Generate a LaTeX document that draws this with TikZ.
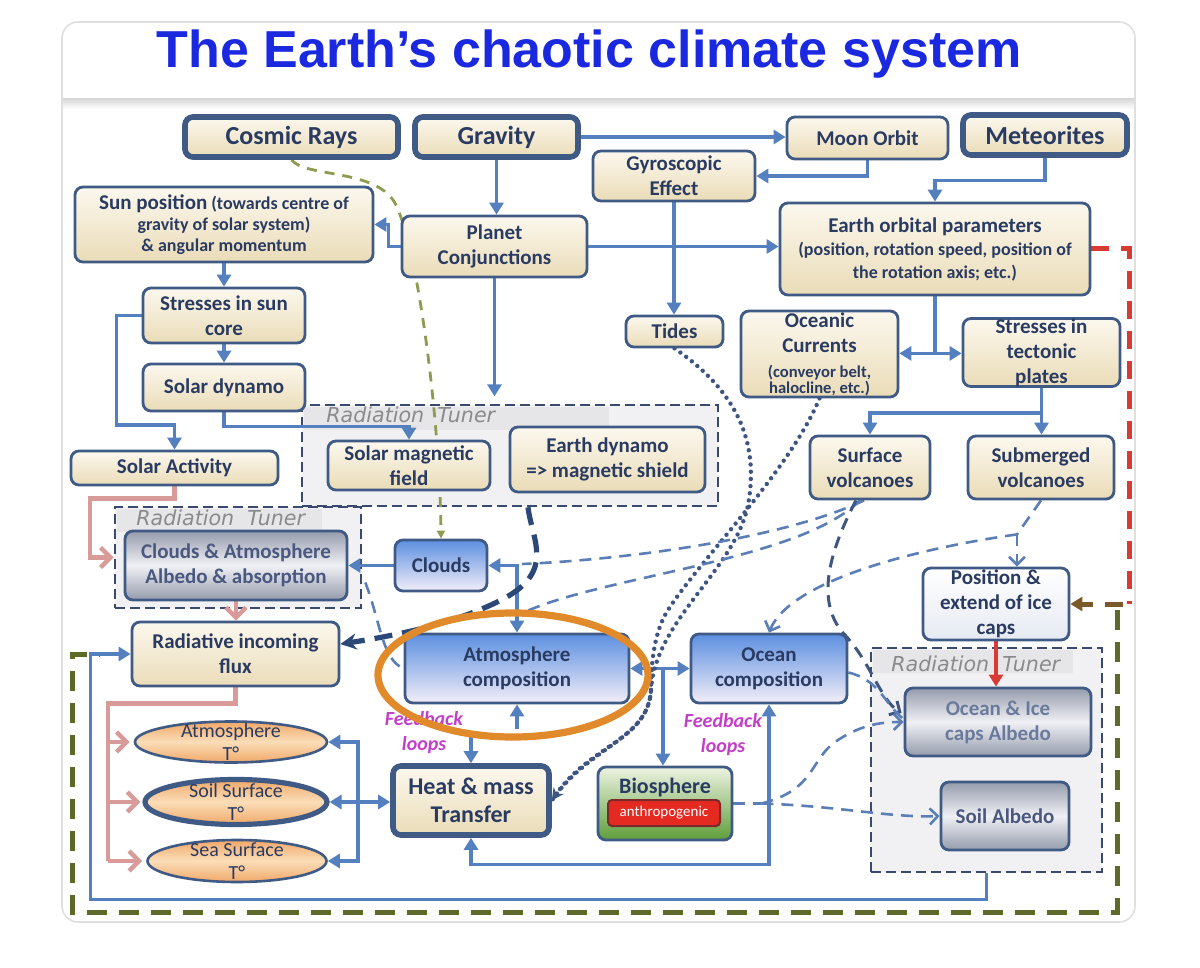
\documentclass[tikz,border=0pt]{standalone}
\usepackage{fontspec}
\setmainfont{Carlito}
\newfontfamily\titlefont{Liberation Sans}
\newfontfamily\dejavu{DejaVu Sans}
\usetikzlibrary{arrows.meta,calc,shapes.geometric}
\pgfdeclarelayer{tun}
\pgfdeclarelayer{bg}
\pgfsetlayers{tun,bg,main}
\definecolor{bord}{HTML}{3F5A85}
\definecolor{txt}{HTML}{2A3B62}
\definecolor{txtG}{HTML}{4A5880}
\definecolor{txtL}{HTML}{6A7A9C}
\definecolor{arrC}{HTML}{5580C0}
\definecolor{beigeT}{HTML}{FCF8EE}
\definecolor{beigeB}{HTML}{EADCB8}
\definecolor{blueT}{HTML}{5C8FE0}
\definecolor{blueB}{HTML}{F2EEF8}
\definecolor{metalE}{HTML}{959BAC}
\definecolor{metalM}{HTML}{F0F1F5}
\definecolor{tunerB}{HTML}{3A4A6E}
\definecolor{tunerF}{HTML}{F1F1F3}
\definecolor{tunerBand}{HTML}{E6E6E9}
\definecolor{tunerT}{HTML}{8A8A8E}
\definecolor{pinkC}{HTML}{D99A9A}
\definecolor{oliveC}{HTML}{5E6A2A}
\definecolor{oliveL}{HTML}{8E9C50}
\definecolor{redC}{HTML}{D83A34}
\definecolor{brownC}{HTML}{7A5A2A}
\definecolor{navyD}{HTML}{2B4878}
\definecolor{dashC}{HTML}{5A7EB5}
\definecolor{dashD}{HTML}{3E5682}
\definecolor{dotC}{HTML}{3D5580}
\definecolor{orangeC}{HTML}{E08A2C}
\definecolor{magC}{HTML}{C43FC8}
\definecolor{titleC}{HTML}{1A28E0}
\definecolor{ellT}{HTML}{FBDDB8}
\definecolor{ellB}{HTML}{F0A868}
\definecolor{greenT}{HTML}{EEF3E2}
\definecolor{greenB}{HTML}{5E9E3A}
\definecolor{anthC}{HTML}{E52A22}
\definecolor{anthB}{HTML}{7A2A2A}
\definecolor{posB}{HTML}{E6EAF2}
\newcommand{\bx}[7]{%
\pgfmathsetmacro{\bxcx}{(#2+#4)/2}%
\pgfmathsetmacro{\bxcy}{(#3+#5)/2}%
\pgfmathsetmacro{\bxw}{(#4-#2)/2}%
\pgfmathsetmacro{\bxh}{(#5-#3)/2}%
\node[#6, minimum width=\bxw pt, minimum height=\bxh pt] (#1) at (\bxcx,\bxcy) {#7};}
\tikzset{
 bbase/.style={draw=bord, line width=1.4pt, rounded corners=4pt, align=center, text=txt, font=\bfseries\fontsize{10.5}{12.5}\selectfont, inner sep=0pt},
 beige/.style={bbase, top color=beigeT, bottom color=beigeB},
 thk/.style={line width=2.8pt},
 bluebox/.style={bbase, top color=blueT, bottom color=blueB},
 metal/.style={bbase, top color=metalE, bottom color=metalE, middle color=metalM},
 tuner/.style={draw=tunerB, dash pattern=on 5pt off 2.5pt, line width=1.3pt, fill=tunerF, inner sep=0pt},
 tunlab/.style={font=\dejavu\itshape\fontsize{10.3}{12}\selectfont, text=tunerT, inner sep=0pt},
 ln/.style={draw=arrC, line width=1.6pt},
 arr/.style={ln, -{Triangle[length=6pt,width=7pt]}},
 arrr/.style={ln, {Triangle[length=6pt,width=7pt]}-{Triangle[length=6pt,width=7pt]}},
 pk/.style={draw=pinkC, line width=2.2pt},
 pkarr/.style={pk, -{Straight Barb[length=5pt,width=10pt]}},
 dsh/.style={draw=dashC, line width=1.3pt, dash pattern=on 6pt off 4pt},
 dsharr/.style={dsh, -{Straight Barb[length=4pt,width=8pt]}},
 dshD/.style={draw=dashD, line width=1.5pt, dash pattern=on 6pt off 4pt, -{Straight Barb[length=4pt,width=8pt]}},
 dotl/.style={draw=dotC, line width=2.2pt, line cap=round, dash pattern=on 0pt off 3.6pt},
 olv/.style={draw=oliveL, line width=1.4pt, dash pattern=on 5pt off 4pt, -{Triangle[length=4pt,width=4pt]}},
 olvB/.style={draw=oliveC, line width=2.5pt, dash pattern=on 10pt off 6pt},
 redd/.style={draw=redC, line width=2.5pt, dash pattern=on 9pt off 6pt},
 brdarr/.style={draw=brownC, line width=2.5pt, dash pattern=on 9pt off 6pt, -{Triangle[length=6pt,width=7pt]}},
 nvd/.style={draw=navyD, line width=2.6pt, dash pattern=on 9pt off 5pt, -{Stealth[length=8pt,width=8pt]}},
 ell/.style={ellipse, draw=bord, line width=1.3pt, top color=ellB, bottom color=ellB, middle color=ellT, inner sep=0pt},
 elt/.style={align=center, text=txt, font=\fontsize{10}{11.5}\selectfont, inner sep=0pt},
 fb/.style={align=center, text=magC, font=\bfseries\itshape\fontsize{10}{12.5}\selectfont, inner sep=0pt}
}
\begin{document}
\begin{tikzpicture}[x=0.5pt,y=-0.5pt]
\useasboundingbox (0,0) rectangle (1200,968);
\begin{pgfonlayer}{tun}
\fill[white] (0,0) rectangle (1200,968);
\node[draw=gray!25, line width=0.8pt, rounded corners=8pt, fill=white, minimum width=536.5pt, minimum height=450pt, inner sep=0pt] (card) at (598.5,472) {};
\shade[top color=gray!30, bottom color=white] (63,99) rectangle (1134,109);
\bx{tuner1}{302}{405}{718}{506}{tuner}{}
\bx{tuner2}{115}{507}{361}{608}{tuner}{}
\bx{tuner3}{871}{648}{1102}{872}{tuner}{}
\fill[tunerBand] ($(tuner1.north west)+(3,3)$) rectangle ($(tuner1.north east)+(-110,26)$);
\fill[tunerBand] ($(tuner2.north west)+(3,3)$) rectangle ($(tuner2.north east)+(-40,26)$);
\fill[tunerBand] ($(tuner3.north west)+(3,3)$) rectangle ($(tuner3.north east)+(-30,26)$);
\node[tunlab, anchor=west] (tl1) at (326,415) {Radiation\ \ Tuner};
\node[tunlab, anchor=west] (tl2) at (136,518) {Radiation\ \ Tuner};
\node[tunlab, anchor=west] (tl3) at (891,664) {Radiation\ \ Tuner};
\end{pgfonlayer}

\node[font=\titlefont\bfseries\fontsize{26}{30}\selectfont, text=titleC] (title) at (589,54) {The Earth’s chaotic climate system};

% nodes
\bx{cosmic}{185}{117}{398}{157}{beige,thk,font=\bfseries\fontsize{13}{15}\selectfont}{Cosmic Rays}
\bx{gravity}{415}{117}{578}{157}{beige,thk,font=\bfseries\fontsize{13}{15}\selectfont}{Gravity}
\bx{moon}{787}{117}{948}{159}{beige}{Moon Orbit}
\bx{meteor}{963}{115}{1127}{155}{beige,thk,font=\bfseries\fontsize{13}{15}\selectfont}{Meteorites}
\bx{gyro}{593}{151}{755}{201}{beige}{Gyroscopic\\Effect}
\bx{sunpos}{75}{187}{373}{262}{beige,font=\bfseries\fontsize{9}{10.5}\selectfont}{{\fontsize{10.5}{10.5}\selectfont Sun position} (towards centre of\\gravity of solar system)\\\& angular momentum}
\bx{planet}{402}{216}{587}{277}{beige}{Planet\\Conjunctions}
\bx{earth}{780}{203}{1090}{295}{beige,font=\bfseries\fontsize{9}{11.5}\selectfont}{{\fontsize{10.5}{11.5}\selectfont Earth orbital parameters}\\(position, rotation speed, position of\\the rotation axis; etc.)}
\bx{stress}{143}{288}{305}{343}{beige}{Stresses in sun\\core}
\bx{tides}{626}{316}{723}{347}{beige}{Tides}
\bx{ocur}{741}{311}{898}{397}{beige}{Oceanic\\Currents\\{\fontsize{8.3}{10}\selectfont (conveyor belt,}\\[-4.5pt]{\fontsize{8.3}{10}\selectfont halocline, etc.)}}
\bx{tect}{963}{320}{1120}{385}{beige}{Stresses in\\tectonic\\plates}
\bx{sdyn}{143}{364}{305}{411}{beige}{Solar dynamo}
\bx{smag}{328}{441}{490}{490}{beige}{Solar magnetic\\field}
\bx{edyn}{510}{427}{705}{492}{beige}{Earth dynamo\\=> magnetic shield}
\bx{sact}{71}{451}{278}{485}{beige}{Solar Activity}
\bx{svol}{810}{436}{930}{499}{beige}{Surface\\volcanoes}
\bx{mvol}{968}{436}{1114}{499}{beige}{Submerged\\volcanoes}
\bx{catm}{125}{531}{347}{600}{metal,text=txtG}{Clouds \& Atmosphere\\Albedo \& absorption}
\bx{clouds}{395}{540}{487}{591}{bluebox}{Clouds}
\bx{posi}{923}{568}{1069}{640}{bbase,top color=white,bottom color=posB}{Position \&\\extend of ice\\caps}
\bx{rflux}{132}{622}{339}{686}{beige}{Radiative incoming\\flux}
\bx{atmc}{405}{634}{629}{703}{bluebox}{Atmosphere\\composition}
\bx{occ}{691}{634}{847}{703}{bluebox}{Ocean\\composition}
\bx{oice}{905}{688}{1091}{756}{metal,text=txtL}{Ocean \& Ice\\caps Albedo}
\bx{salb}{941}{782}{1069}{850}{metal,text=txtG}{Soil Albedo}
\bx{heat}{393}{766}{549}{835}{beige,thk,font=\bfseries\fontsize{12}{14}\selectfont}{Heat \& mass\\Transfer}
\bx{bio}{598}{767}{732}{840}{bbase,top color=greenT,bottom color=greenB}{}
\node[font=\bfseries\fontsize{11}{12}\selectfont, text=txt, inner sep=0pt] (biot) at (665,788) {Biosphere};
\bx{anth}{608}{800}{720}{826}{draw=anthB, line width=1pt, rounded corners=2pt, fill=anthC, text=white, font=\fontsize{7.5}{9}\selectfont, inner sep=0pt}{anthropogenic}

\node[ell, minimum width=96pt, minimum height=20.5pt] (atmT) at (231,742) {};
\node[ell, line width=2.6pt, minimum width=91pt, minimum height=22.5pt] (soilT) at (236,802) {};
\node[ell, minimum width=89.5pt, minimum height=21pt] (seaT) at (237,861) {};
\node[elt] (atmTt) at (atmT) {Atmosphere\\T°};
\node[elt] (soilTt) at (soilT) {Soil Surface\\T°};
\node[elt] (seaTt) at (seaT) {Sea Surface\\T°};

\node[fb] (fb1) at (424,733) {Feedback\\loops};
\node[fb] (fb2) at (723,735) {Feedback\\loops};

\node[draw=orangeC, line width=3.6pt, ellipse, minimum width=135pt, minimum height=62pt, inner sep=0pt] (hl) at (513,675) {};

% connectors
\begin{pgfonlayer}{bg}
\draw[arr] (gravity.east) -- (gravity.east -| moon.west);
\draw[arr] (moon.south) |- (gyro.east);
\draw[arr] (meteor.south) -- ++(0,23) -| (earth.north);
\draw[arr] (gravity.south) -- (gravity.south |- planet.north);
\draw[arr] (planet.west) -- ++(-12,0) |- (sunpos.east);
\draw[arr] (planet.east) -- (planet.east -| earth.west);
\draw[arr] (gyro.south) -- (gyro.south |- tides.north);
\draw[arr] (planet.south) -- ++(0,118);
\draw[arr] (sunpos.south) -- (sunpos.south |- stress.north);
\draw[arr] (stress.south) -- (stress.south |- sdyn.north);
\draw[arr] (stress.west) -- ++(-25,0) -- ++(0,109.5) -| (sact.north);
\draw[arr] (sdyn.south) -- ++(0,14) -| (smag.north);

\draw[pkarr] (sact.south) -- ++(0,12) -- ++(-84.5,0) |- (tuner2.west);
\draw[pkarr] (catm.south) -- (catm.south |- rflux.north);
\coordinate (pk2) at ($(rflux.south)+(-127.5,16)$);
\draw[pk] (rflux.south) -- ++(0,16) -| (pk2 |- seaT.west);
\draw[pkarr] (pk2 |- atmT.west) -- ([xshift=-2pt]atmT.west);
\draw[pkarr] (pk2 |- soilT.west) -- ([xshift=-1pt]soilT.west);
\draw[pkarr] (pk2 |- seaT.west) -- ([xshift=-2pt]seaT.west);

\draw[arr] (clouds.west) -- (clouds.west -| catm.east);
\draw[arrr] (atmc.north) |- (clouds.east);

\draw[olv] (cosmic.south) .. controls (305,178) and (378,168) .. (396,205) .. controls (418,250) and (440,420) .. (clouds.north);

\draw[ln] (earth.south) -- ++(0,57) coordinate (ej);
\draw[arr] (ej) -- (ej -| ocur.east);
\draw[arr] (ej) -- (ej -| tect.west);
\draw[ln] (tect.south) -- ++(0,25) coordinate (tj);
\draw[arr] (tj) -- (tj |- mvol.north);
\draw[arr] (tj) -| (svol.north);

\draw[arr, draw=redC, line width=2pt] (posi.south) -- (posi.south |- oice.north);

\draw[redd] (earth.east) -- ++(38,0) -- ++(0,355) coordinate (rd);
\draw[brdarr] ([xshift=-3pt]rd) -- (posi.east);
\draw[olvB] (1117,610) -- (1117,912) -- (72,912) -- (72,654) -- (100,654);
\draw[arr] (tuner3.south) -- ++(0,26) -| ($(rflux.west)+(-40,0)$) -- (rflux.west);

\draw[arrr] (soilT.east) -- (soilT.east -| heat.west);
\coordinate (hj) at ($(soilT.east)!0.47!(soilT.east -| heat.west)$);
\draw[arr] (hj) |- (atmT.east);
\draw[arr] (hj) |- (seaT.east);

\draw[arr] ($(heat.north)+(0,-29)$) -- (heat.north);
\draw[arr] ($(atmc.south)+(0,25)$) -- (atmc.south);
\draw[arrr] (atmc.east) -- (occ.west);
\coordinate (ao) at ($(atmc.east)!0.55!(occ.west)$);
\draw[arr] (ao) -- (ao |- bio.north);
\draw[arrr] (heat.south) -- ++(0,27) -| (occ.south);

\draw[nvd] ($(tuner1.south)+(18,0)$) .. controls (532,540) and (555,570) .. (505,598) .. controls (460,622) and (400,635) .. ($(rflux.east)+(0,-10)$);

\draw[dotl] (tides.south) .. controls (735,390) and (760,440) .. (748,505) .. controls (735,570) and (655,620) .. (651,690) .. controls (648,740) and (590,745) .. (heat.east);
\draw[dotl, -{Stealth[length=6pt,width=6pt]}] (ocur.south) .. controls (790,470) and (700,560) .. (668,610) .. controls (655,630) and (651,660) .. (651,690) .. controls (648,740) and (590,745) .. (heat.east);

\draw[dsh] ([xshift=-3pt]svol.south) .. controls (780,540) and (620,560) .. (522,564);
\draw[dsh] ([xshift=-5pt]svol.south) .. controls (800,560) and (610,575) .. (527,611);
\draw[dshD] ([xshift=-7pt]svol.south) .. controls (830,550) and (815,600) .. (843,633) .. controls (870,660) and (880,700) .. ($(oice.west)+(-2,-9)$);

\coordinate (sm) at ($(mvol.south)+(-24,34)$);
\draw[dsh] (mvol.south) -- (sm);
\draw[dsharr] (sm) -- (sm |- posi.north);
\draw[dsharr] (sm) .. controls (920,548) and (790,580) .. (occ.north);
\draw[dsh] ($(occ.east)+(0,4)$) .. controls (880,680) and (885,705) .. ($(oice.west)+(0,-3)$);

\coordinate (bj) at ($(bio.east)+(28,0)$);
\draw[dsh] (bio.east) -- (bj);
\draw[dsharr] (bj) .. controls (840,806) and (890,818) .. (salb.west);
\draw[dsharr] (bj) .. controls (815,790) and (810,760) .. (835,742) .. controls (860,725) and (880,722) .. (oice.west);

\draw[dsh] ($(tuner2.east)+(3,25)$) .. controls (380,620) and (382,660) .. (atmc.west);
\end{pgfonlayer}
\end{tikzpicture}
\end{document}
